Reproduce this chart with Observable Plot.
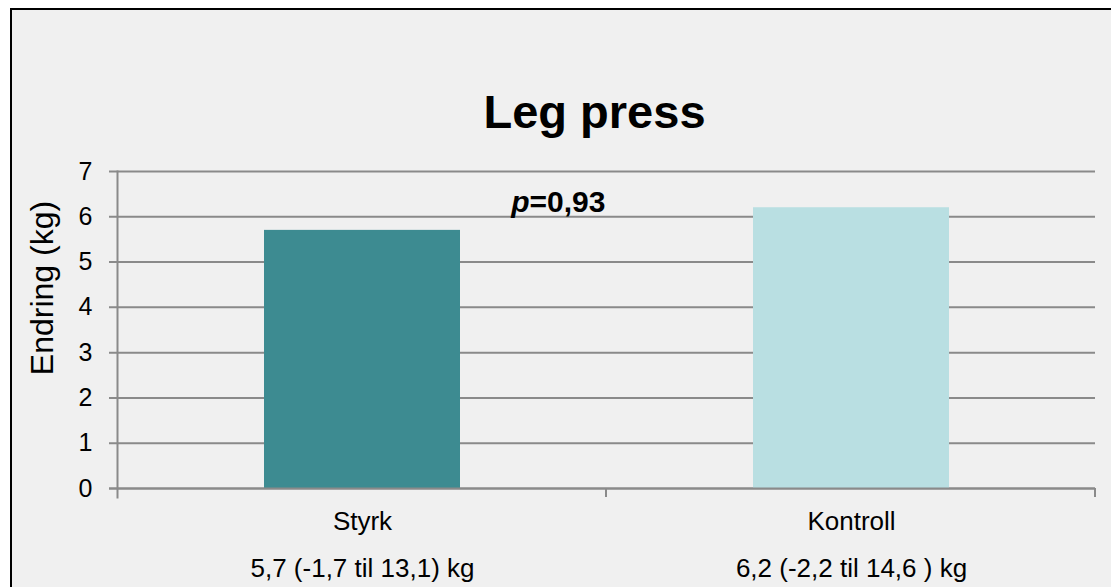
<!DOCTYPE html>
<html>
<head>
<meta charset="utf-8">
<script src="https://cdn.jsdelivr.net/npm/d3@7"></script>
<script src="https://cdn.jsdelivr.net/npm/@observablehq/plot@0.6"></script>
<style>
  html, body { margin: 0; padding: 0; background: #fff; overflow: hidden; }
  #panel {
    position: absolute; left: 10px; top: 8px; width: 1200px; height: 700px;
    background: #f0f0f0; border: 2px solid #000; box-sizing: border-box;
  }
  #chart { position: absolute; left: 0; top: 0; }
</style>
</head>
<body>
<div id="panel"></div>
<div id="chart"></div>
<script>
// Change in leg press (kg) per group
const groups = ["Styrk", "Kontroll"];
const changes = [5.7, 6.2];
const ciLabels = ["5,7 (-1,7 til 13,1) kg", "6,2 (-2,2 til 14,6 ) kg"];
const barColors = ["#3d8b91", "#b9dfe2"];
const yTicks = [0, 1, 2, 3, 4, 5, 6, 7];
const title = "Leg press";
const yLabel = "Endring (kg)";
const pValue = "=0,93";

const rows = groups.map((g, i) => ({group: g, change: changes[i], ci: ciLabels[i]}));
const font = "'Liberation Sans', Arial, sans-serif";
const gridColor = "#8a8a8a";

// Small downward ticks at the band boundaries of the category axis
function categoryDividers(index, scales, values, dim) {
  const g = d3.create("svg:g").attr("stroke", gridColor).attr("stroke-width", 2);
  const x0 = dim.marginLeft, x1 = dim.width - dim.marginRight;
  const yb = dim.height - dim.marginBottom;
  const n = groups.length;
  for (let i = 1; i <= n; i++) {
    const x = x0 + (i * (x1 - x0)) / n;
    g.append("line").attr("x1", x).attr("x2", x).attr("y1", yb).attr("y2", yb + 9);
  }
  return g.node();
}

const chart = Plot.plot({
  width: 1111,
  height: 587,
  marginLeft: 117,
  marginRight: 16,
  marginTop: 171,
  marginBottom: 99,
  style: {background: "transparent", fontFamily: font, color: "#000", overflow: "visible"},
  x: {domain: groups, paddingInner: 0.6, paddingOuter: 0.3, axis: null},
  y: {domain: [0, 7], axis: null},
  color: {domain: groups, range: barColors},
  marks: [
    Plot.ruleY(yTicks, {y: d => d, stroke: gridColor, strokeWidth: 2, insetLeft: -8}),
    Plot.barY(rows, {x: "group", y: "change", fill: "group"}),
    Plot.ruleY([0], {stroke: gridColor, strokeWidth: 2, insetLeft: -8}),
    Plot.frame({anchor: "left", stroke: gridColor, strokeWidth: 2, insetBottom: -9}),
    categoryDividers,
    Plot.axisY({ticks: yTicks, tickFormat: d => String(d), tickSize: 0, tickPadding: 25, label: null, fontSize: 25, fill: "#000"}),
    Plot.text(rows, {x: "group", text: "group", frameAnchor: "bottom", lineAnchor: "bottom", dy: 41, fontSize: 26, fill: "#000"}),
    Plot.text(rows, {x: "group", text: "ci", frameAnchor: "bottom", lineAnchor: "bottom", dy: 88, fontSize: 26, fill: "#000"}),
    Plot.text([yLabel], {text: d => d, frameAnchor: "left", textAnchor: "middle", rotate: -90, lineAnchor: "bottom", dx: -65, dy: -42, fontSize: 32, fill: "#000"}),
    Plot.text([title], {text: d => d, frameAnchor: "top", lineAnchor: "bottom", dx: -12, dy: -44, fontSize: 47, fontWeight: "bold", fill: "#000"}),
    Plot.text(["p"], {text: d => d, frameAnchor: "top", lineAnchor: "bottom", textAnchor: "end", dx: -77, dy: 40, fontSize: 30, fontWeight: "bold", fontStyle: "italic", fill: "#000"}),
    Plot.text([pValue], {text: d => d, frameAnchor: "top", lineAnchor: "bottom", textAnchor: "start", dx: -77, dy: 40, fontSize: 30, fontWeight: "bold", fill: "#000"})
  ]
});
document.getElementById("chart").append(chart);
</script>
</body>
</html>
